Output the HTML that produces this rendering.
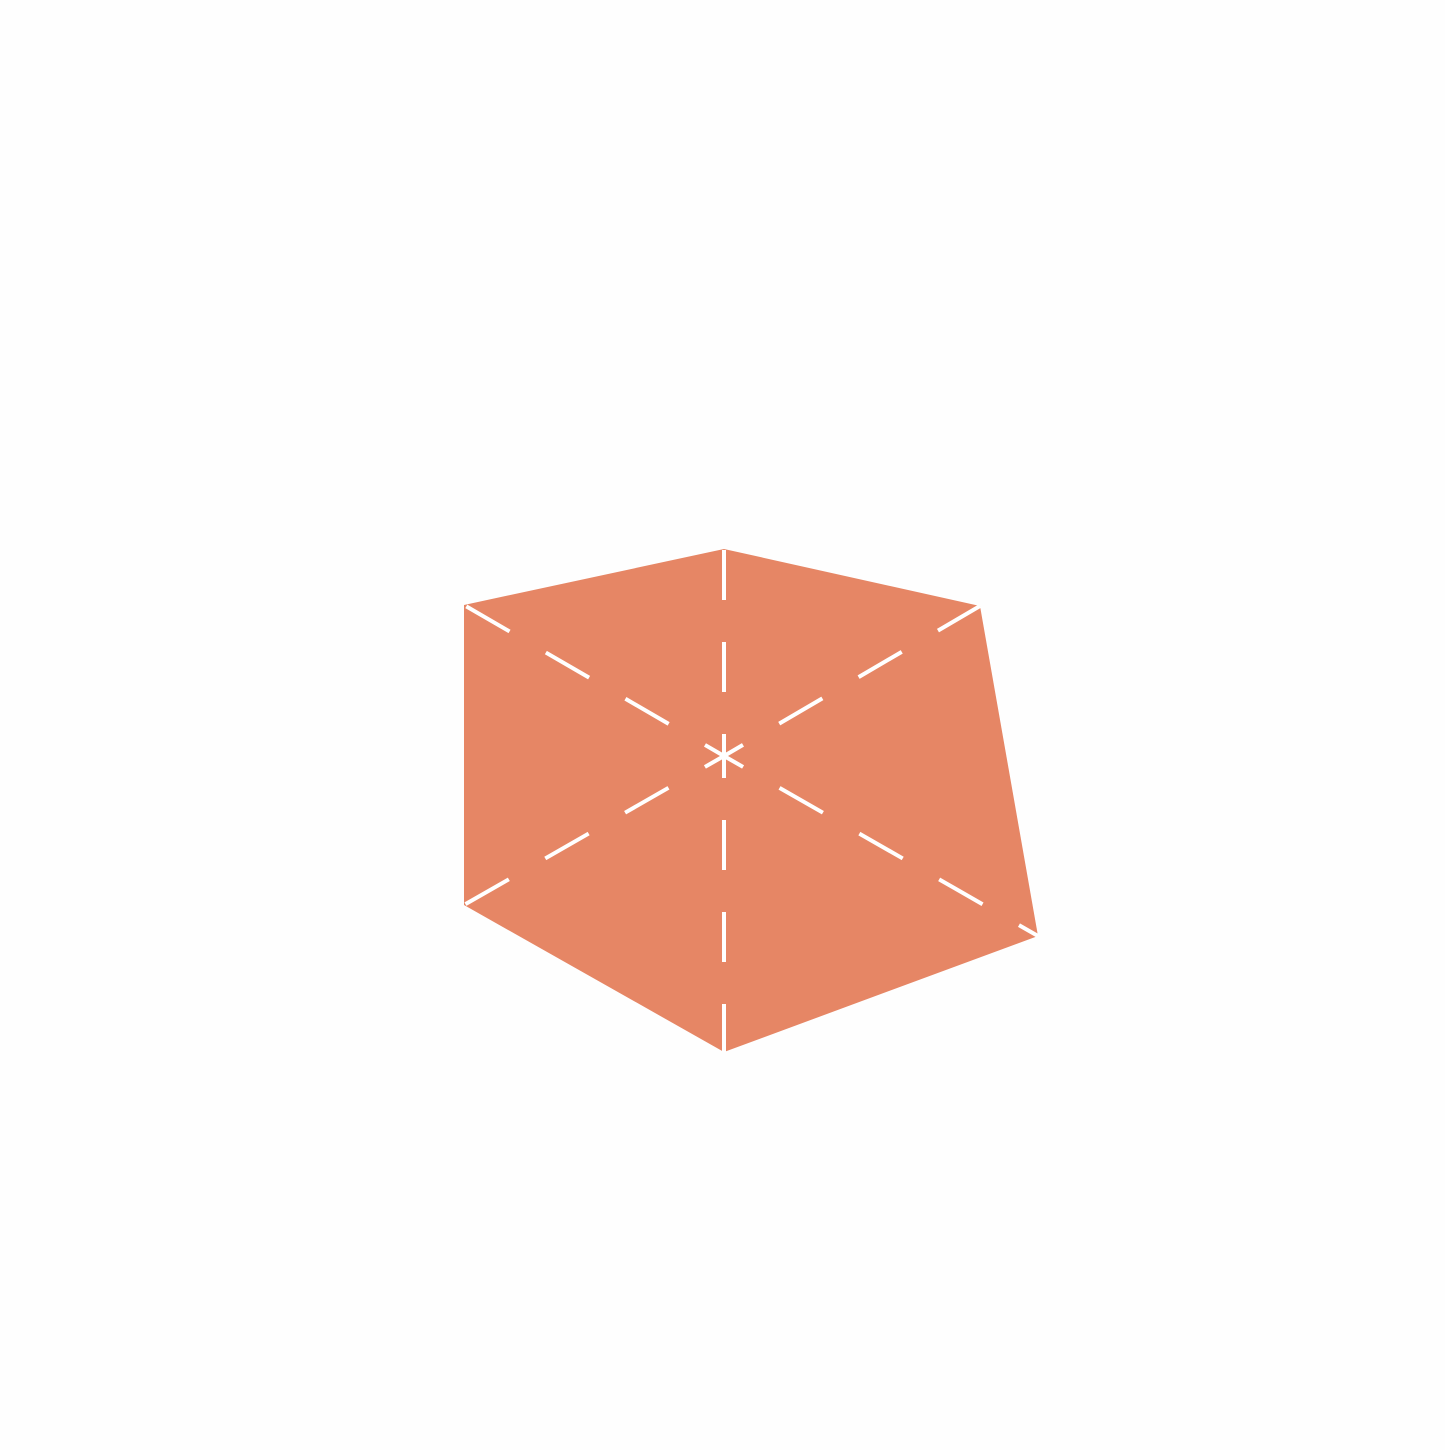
<!DOCTYPE html>
<html><head><meta charset="utf-8"><style>html,body{margin:0;padding:0;background:#fefefe}</style></head>
<body>
<svg width="1445" height="1445" viewBox="0 0 1445 1445" xmlns="http://www.w3.org/2000/svg">
<rect width="1445" height="1445" fill="#fefefe"/>
<polygon points="724,549 980,606 1038,936 724,1052 464,905 464,605" fill="#e68665"/>
<g stroke="#ffffff" stroke-width="4" fill="none" stroke-dasharray="22 42 50 42 50 42 50 42 50 42">
<line x1="724" y1="756" x2="724" y2="549"/>
<line x1="724" y1="756" x2="724" y2="1052"/>
<line x1="724" y1="756" x2="980" y2="606"/>
<line x1="724" y1="756" x2="464" y2="905"/>
<line x1="724" y1="756" x2="464" y2="605"/>
<line x1="724" y1="756" x2="1038" y2="936"/>
</g>
</svg>
</body></html>
